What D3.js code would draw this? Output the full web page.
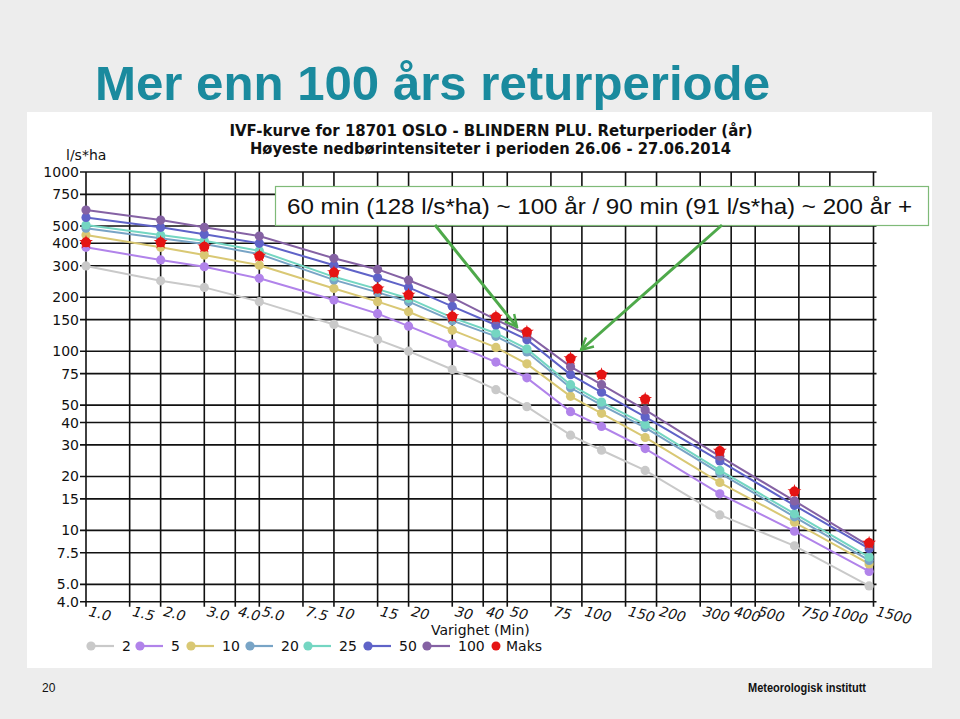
<!DOCTYPE html>
<html>
<head>
<meta charset="utf-8">
<script src="https://cdn.jsdelivr.net/npm/d3@7"></script>
<style>
  html, body { margin: 0; padding: 0; background: #ededed; }
  svg { display: block; }
</style>
</head>
<body>
<svg id="chart" width="960" height="719"></svg>
<script>
// ---- data ----
const durations = [1, 2, 3, 5, 10, 15, 20, 30, 45, 60, 90, 120, 180, 360, 720, 1440];
const xTicks = [1, 1.5, 2, 3, 4, 5, 7.5, 10, 15, 20, 30, 40, 50, 75, 100, 150, 200, 300, 400, 500, 750, 1000, 1500];
const xTickLabels = ["1.0","1.5","2.0","3.0","4.0","5.0","7.5","10","15","20","30","40","50","75","100","150","200","300","400","500","750","1000","1500"];
const yTicks = [1000, 750, 500, 400, 300, 200, 150, 100, 75, 50, 40, 30, 20, 15, 10, 7.5, 5, 4];
const yTickLabels = ["1000","750","500","400","300","200","150","100","75","50","40","30","20","15","10","7.5","5.0","4.0"];

const seriesNames = ["2", "5", "10", "20", "25", "50", "100"];
const r2   = [299, 247, 227, 189, 141, 116, 100, 79, 61, 49, 34, 28, 21.6, 12.2, 8.2, 4.9];
const r5   = [380, 323, 296, 255, 193, 162, 138, 110, 87, 71, 46, 38, 28.6, 16, 9.9, 5.9];
const r10  = [445, 380, 344, 302, 224, 189, 166, 131, 105, 85, 56, 45, 33, 18.5, 11.1, 6.5];
const r20  = [486, 427, 396, 348, 250, 213, 189, 148, 121, 99, 62.5, 50, 37.5, 20.9, 11.9, 6.8];
const r25  = [506, 445, 413, 363, 260, 222, 197, 154, 126, 103, 65, 52, 39, 21.6, 12.4, 7.1];
const r50  = [558, 491, 449, 400, 302, 257, 227, 178, 140, 116, 74, 59, 43, 24.4, 13.8, 7.9];
const r100 = [613, 539, 491, 439, 330, 286, 249, 199, 150, 124, 82, 65, 47, 25.9, 14.6, 8.2];
const maks = [405, 405, 383, 340, 275, 223, 206, 156, 155, 128, 91, 74, 54, 27.7, 16.5, 8.5];

const seriesValues = [r2, r5, r10, r20, r25, r50, r100];
const seriesColors = ["#c9c9c9", "#b183ea", "#d9c874", "#78a4c6", "#74d6c2", "#5f63c8", "#8562a4"];
const maksColor = "#e51414";

const titleText = "Mer enn 100 års returperiode";
const chartTitle1 = "IVF-kurve for 18701 OSLO - BLINDERN PLU. Returperioder (år)";
const chartTitle2 = "Høyeste nedbørintensiteter i perioden 26.06 - 27.06.2014";
const noteText = "60 min (128 l/s*ha) ~ 100 år /  90 min (91 l/s*ha) ~ 200 år +";

// ---- drawing ----
const svg = d3.select("#chart");

svg.append("rect").attr("x", 0).attr("y", 0).attr("width", 960).attr("height", 719).attr("fill", "#ededed");
svg.append("rect").attr("x", 27).attr("y", 112).attr("width", 905).attr("height", 556).attr("fill", "#ffffff");

svg.append("text").attr("x", 95).attr("y", 100)
  .attr("font-family", "Liberation Sans, Arial, sans-serif").attr("font-weight", "bold")
  .attr("font-size", 49).attr("fill", "#1a8a9e")
  .attr("textLength", 675).attr("lengthAdjust", "spacingAndGlyphs")
  .text(titleText);

const x = d3.scaleLog().domain([1, 1500]).range([86, 873.5]);
const y = d3.scaleLog().domain([4, 1000]).range([601.7, 172]);

// chart titles
svg.append("text").attr("x", 491).attr("y", 136).attr("text-anchor", "middle")
  .attr("font-family", "DejaVu Sans Condensed, DejaVu Sans, sans-serif").attr("font-weight", "bold")
  .attr("font-size", 15).attr("fill", "#111")
  .attr("textLength", 523).attr("lengthAdjust", "spacingAndGlyphs").text(chartTitle1);
svg.append("text").attr("x", 490.5).attr("y", 154).attr("text-anchor", "middle")
  .attr("font-family", "DejaVu Sans Condensed, DejaVu Sans, sans-serif").attr("font-weight", "bold")
  .attr("font-size", 15).attr("fill", "#111")
  .attr("textLength", 481).attr("lengthAdjust", "spacingAndGlyphs").text(chartTitle2);

// y label
svg.append("text").attr("x", 66).attr("y", 160)
  .attr("font-family", "DejaVu Sans, sans-serif").attr("font-size", 14).attr("fill", "#111")
  .text("l/s*ha");

const grid = svg.append("g").attr("stroke", "#111").attr("stroke-width", 1.6);
xTicks.forEach(t => {
  grid.append("line").attr("x1", x(t)).attr("x2", x(t)).attr("y1", y(1000)).attr("y2", y(4) + 5);
});
yTicks.forEach(t => {
  grid.append("line").attr("x1", x(1) - 6).attr("x2", x(1500) + 3).attr("y1", y(t)).attr("y2", y(t));
});

// y tick labels
yTicks.forEach((t, i) => {
  svg.append("text").attr("x", 79).attr("y", y(t) + 5).attr("text-anchor", "end")
    .attr("font-family", "DejaVu Sans, sans-serif").attr("font-size", 14).attr("fill", "#111")
    .text(yTickLabels[i]);
});
// x tick labels
xTicks.forEach((t, i) => {
  const px = x(t) + 2, py = y(4) + 14;
  svg.append("text").attr("transform", `translate(${px},${py}) rotate(14)`)
    .attr("font-family", "DejaVu Sans, sans-serif").attr("font-style", "italic")
    .attr("font-size", 14).attr("fill", "#111")
    .text(xTickLabels[i]);
});
svg.append("text").attr("x", 431).attr("y", 635)
  .attr("font-family", "DejaVu Sans, sans-serif").attr("font-size", 14).attr("fill", "#111")
  .text("Varighet  (Min)");

// series
const line = d3.line().x((d, i) => x(durations[i])).y(d => y(d));
seriesValues.forEach((vals, k) => {
  svg.append("path").attr("d", line(vals)).attr("fill", "none")
    .attr("stroke", seriesColors[k]).attr("stroke-width", 2);
  svg.append("g").selectAll("circle").data(vals).join("circle")
    .attr("cx", (d, i) => x(durations[i])).attr("cy", d => y(d)).attr("r", 4.6)
    .attr("fill", seriesColors[k]);
});
const star = d3.symbol().type(d3.symbolStar).size(60);
svg.append("g").selectAll("g").data(maks).join("g")
  .attr("transform", (d, i) => `translate(${x(durations[i])},${y(d)})`)
  .each(function () {
    d3.select(this).append("circle").attr("r", 5).attr("fill", maksColor);
    d3.select(this).append("path").attr("d", star()).attr("fill", maksColor);
  });

// legend
const legendX = [91, 140, 191, 250, 308, 368, 427];
const ly = 646;
seriesNames.forEach((name, k) => {
  const lx = legendX[k];
  svg.append("line").attr("x1", lx).attr("x2", lx + 23).attr("y1", ly).attr("y2", ly)
    .attr("stroke", seriesColors[k]).attr("stroke-width", 2.2);
  svg.append("circle").attr("cx", lx).attr("cy", ly).attr("r", 4.6).attr("fill", seriesColors[k]);
  svg.append("text").attr("x", lx + 31).attr("y", ly + 5)
    .attr("font-family", "DejaVu Sans, sans-serif").attr("font-size", 14).attr("fill", "#111")
    .text(name);
});
svg.append("circle").attr("cx", 496).attr("cy", ly).attr("r", 4.5).attr("fill", maksColor);
svg.append("text").attr("x", 506).attr("y", ly + 5)
  .attr("font-family", "DejaVu Sans, sans-serif").attr("font-size", 14).attr("fill", "#111")
  .text("Maks");

// annotation box
svg.append("rect").attr("x", 275.5).attr("y", 186.5).attr("width", 653).attr("height", 39)
  .attr("fill", "#ffffff").attr("stroke", "#7fba78").attr("stroke-width", 1.2);
svg.append("text").attr("x", 287).attr("y", 214)
  .attr("font-family", "Liberation Sans Narrow, Liberation Sans, Arial, sans-serif")
  .attr("font-size", 22).attr("fill", "#111")
  .attr("textLength", 625).attr("lengthAdjust", "spacingAndGlyphs")
  .text(noteText);

// arrows
const defs = svg.append("defs");
defs.append("marker").attr("id", "ah").attr("viewBox", "0 0 10 10").attr("refX", 9).attr("refY", 5)
  .attr("markerWidth", 5).attr("markerHeight", 5).attr("orient", "auto")
  .append("path").attr("d", "M1,1 L9,5 L1,9").attr("fill", "none").attr("stroke", "#4ea94a").attr("stroke-width", 1.6);
[[435, 225, 517, 327], [722, 225, 581, 350]].forEach(a => {
  svg.append("line").attr("x1", a[0]).attr("y1", a[1]).attr("x2", a[2]).attr("y2", a[3])
    .attr("stroke", "#4ea94a").attr("stroke-width", 3).attr("marker-end", "url(#ah)");
});

// footer
svg.append("text").attr("x", 42).attr("y", 692)
  .attr("font-family", "Liberation Sans Narrow, Liberation Sans, sans-serif").attr("font-size", 12).attr("fill", "#111")
  .text("20");
svg.append("text").attr("x", 748).attr("y", 692)
  .attr("font-family", "Liberation Sans Narrow, Liberation Sans, sans-serif").attr("font-weight", "bold")
  .attr("font-size", 12).attr("fill", "#111")
  .attr("textLength", 118).attr("lengthAdjust", "spacingAndGlyphs")
  .text("Meteorologisk institutt");
</script>
</body>
</html>
